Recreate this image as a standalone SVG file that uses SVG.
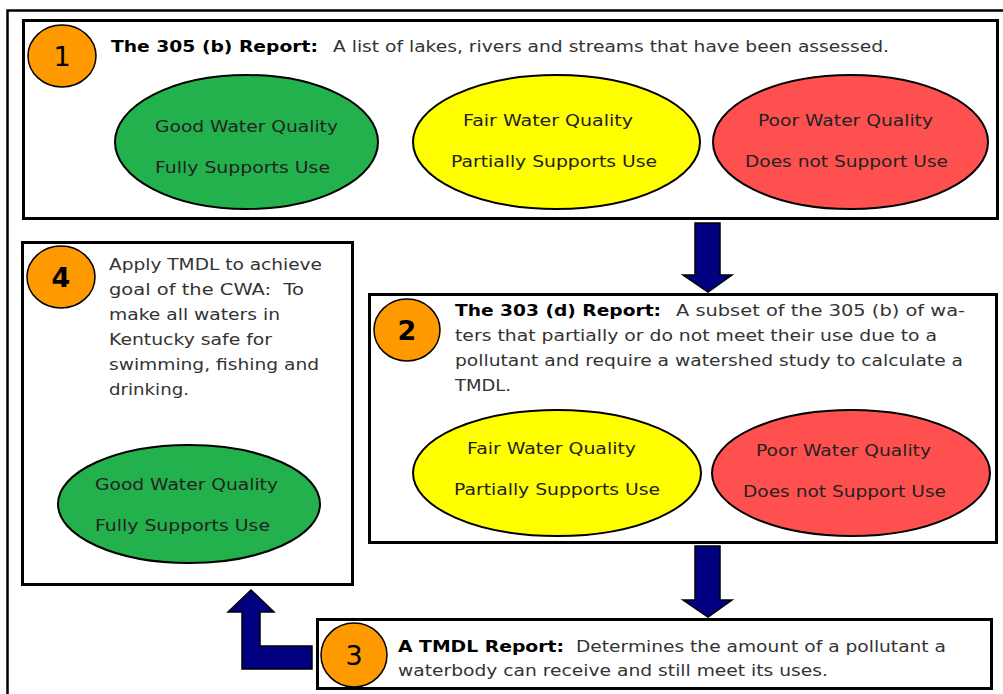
<svg xmlns="http://www.w3.org/2000/svg" width="1003" height="694" viewBox="0 0 1003 694">
<style>
.box{fill:#fff;stroke:#000;stroke-width:3}
.num{fill:#FF9900;stroke:#000;stroke-width:1.5}
.nt{font-family:"DejaVu Sans",Verdana,sans-serif;font-size:27px;fill:#000;text-anchor:middle}
.ttl{font-family:"DejaVu Sans",Verdana,sans-serif;font-size:16px;font-weight:bold;fill:#000}
.body{font-family:"DejaVu Sans",Verdana,sans-serif;font-size:16px;fill:#333}
.el{stroke:#000;stroke-width:2}
.et{font-family:"DejaVu Sans",Verdana,sans-serif;font-size:16.5px;fill:#222}
.arr{fill:#000080;stroke:#000;stroke-width:1.5;stroke-linejoin:miter}
</style>
<rect width="1003" height="694" fill="#fff"/>
<rect x="7.5" y="10.5" width="1010" height="700" fill="none" stroke="#000" stroke-width="2.5"/>

<g id="node1">
<rect class="box" x="23.5" y="20.5" width="974" height="198"/>
<ellipse class="num" cx="62" cy="56" rx="34" ry="31"/>
<text class="nt" x="62" y="66">1</text>
<text class="ttl" x="111" y="52" textLength="207" lengthAdjust="spacingAndGlyphs">The 305 (b) Report:</text>
<text class="body" x="333" y="52" textLength="556" lengthAdjust="spacingAndGlyphs">A list of lakes, rivers and streams that have been assessed.</text>
<ellipse class="el" cx="246.5" cy="142" rx="131.5" ry="67" fill="#22B14C"/>
<text class="et" x="155" y="132" textLength="183" lengthAdjust="spacingAndGlyphs">Good Water Quality</text>
<text class="et" x="155" y="173" textLength="175" lengthAdjust="spacingAndGlyphs">Fully Supports Use</text>
<ellipse class="el" cx="556.5" cy="142" rx="143.5" ry="67" fill="#FFFF00"/>
<text class="et" x="463" y="126" textLength="170" lengthAdjust="spacingAndGlyphs">Fair Water Quality</text>
<text class="et" x="451" y="167" textLength="206" lengthAdjust="spacingAndGlyphs">Partially Supports Use</text>
<ellipse class="el" cx="850.5" cy="142" rx="137.5" ry="67" fill="#FF5050"/>
<text class="et" x="758" y="126" textLength="175" lengthAdjust="spacingAndGlyphs">Poor Water Quality</text>
<text class="et" x="745" y="167" textLength="203" lengthAdjust="spacingAndGlyphs">Does not Support Use</text>
</g>

<g id="node2">
<rect class="box" x="369.5" y="294.5" width="627" height="248"/>
<ellipse class="num" cx="407" cy="330" rx="33" ry="31"/>
<text class="nt" x="407" y="340" font-weight="bold">2</text>
<text class="ttl" x="455" y="316" textLength="206" lengthAdjust="spacingAndGlyphs">The 303 (d) Report:</text>
<text class="body" x="676" y="316" textLength="289" lengthAdjust="spacingAndGlyphs">A subset of the 305 (b) of wa-</text>
<text class="body" x="455" y="341" textLength="482" lengthAdjust="spacingAndGlyphs">ters that partially or do not meet their use due to a</text>
<text class="body" x="455" y="366" textLength="508" lengthAdjust="spacingAndGlyphs">pollutant and require a watershed study to calculate a</text>
<text class="body" x="455" y="391" textLength="56" lengthAdjust="spacingAndGlyphs">TMDL.</text>
<ellipse class="el" cx="557" cy="473" rx="144" ry="63" fill="#FFFF00"/>
<text class="et" x="467" y="454" textLength="169" lengthAdjust="spacingAndGlyphs">Fair Water Quality</text>
<text class="et" x="454" y="495" textLength="206" lengthAdjust="spacingAndGlyphs">Partially Supports Use</text>
<ellipse class="el" cx="851" cy="473" rx="139" ry="63" fill="#FF5050"/>
<text class="et" x="756" y="456" textLength="175" lengthAdjust="spacingAndGlyphs">Poor Water Quality</text>
<text class="et" x="743" y="497" textLength="203" lengthAdjust="spacingAndGlyphs">Does not Support Use</text>
</g>

<g id="node3">
<rect class="box" x="317.5" y="619.5" width="674" height="69"/>
<ellipse class="num" cx="354" cy="655" rx="33" ry="32"/>
<text class="nt" x="354" y="665">3</text>
<text class="ttl" x="398" y="652" textLength="166" lengthAdjust="spacingAndGlyphs">A TMDL Report:</text>
<text class="body" x="576" y="652" textLength="370" lengthAdjust="spacingAndGlyphs">Determines the amount of a pollutant a</text>
<text class="body" x="398" y="676" textLength="430" lengthAdjust="spacingAndGlyphs">waterbody can receive and still meet its uses.</text>
</g>

<g id="node4">
<rect class="box" x="22.5" y="242.5" width="330" height="342"/>
<ellipse class="num" cx="61" cy="277" rx="34" ry="31"/>
<text class="nt" x="61" y="287" font-weight="bold">4</text>
<text class="body" x="109" y="270" textLength="213" lengthAdjust="spacingAndGlyphs">Apply TMDL to achieve</text>
<text class="body" x="109" y="295" textLength="195" lengthAdjust="spacingAndGlyphs" xml:space="preserve">goal of the CWA:  To</text>
<text class="body" x="109" y="320" textLength="171" lengthAdjust="spacingAndGlyphs">make all waters in</text>
<text class="body" x="109" y="345" textLength="163" lengthAdjust="spacingAndGlyphs">Kentucky safe for</text>
<text class="body" x="109" y="370" textLength="210" lengthAdjust="spacingAndGlyphs">swimming, fishing and</text>
<text class="body" x="109" y="395" textLength="80" lengthAdjust="spacingAndGlyphs">drinking.</text>
<ellipse class="el" cx="189" cy="504" rx="131" ry="59" fill="#22B14C"/>
<text class="et" x="95" y="490" textLength="183" lengthAdjust="spacingAndGlyphs">Good Water Quality</text>
<text class="et" x="95" y="531" textLength="175" lengthAdjust="spacingAndGlyphs">Fully Supports Use</text>
</g>

<g id="connectors">
<polygon class="arr" points="695,223 720,223 720,275 732,275 708,292 683,275 695,275"/>
<polygon class="arr" points="695,546 720,546 720,600 732,600 708,617 683,600 695,600"/>
<polygon class="arr" points="251,590 274,612 260,612 260,646 312,646 312,669 242,669 242,612 228,612"/>
</g>
</svg>
